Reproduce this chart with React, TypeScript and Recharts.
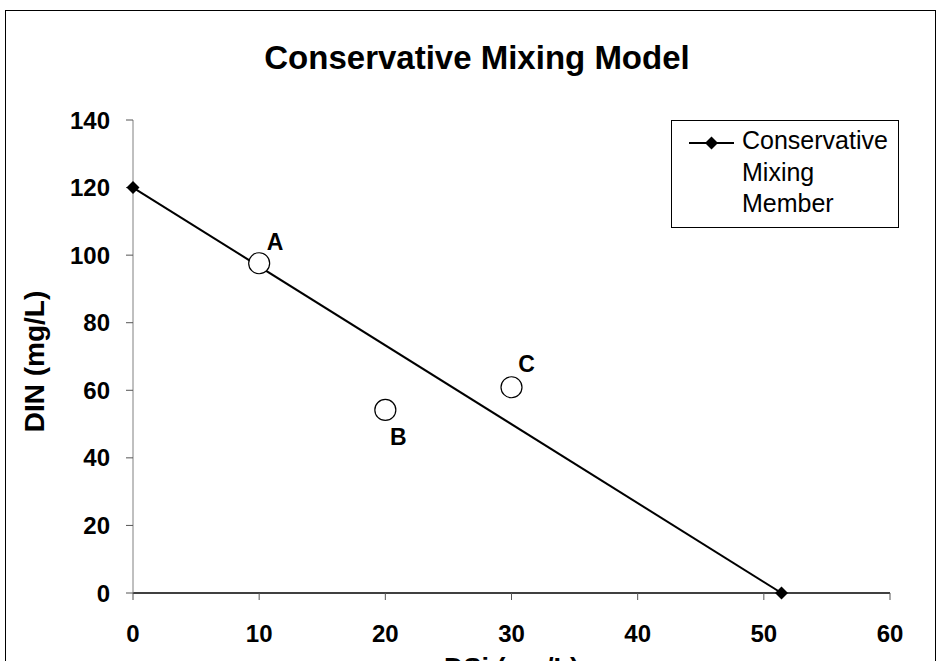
import React from "react";
import { ScatterChart, Scatter, XAxis, YAxis, Legend } from "recharts";

const FONT = "'Liberation Sans', Arial, Helvetica, sans-serif";

// Conservative mixing end-members
const mixingX = [0, 51.4];
const mixingY = [120, 0];
const mixingName = "Conservative Mixing Member";

// Sample points
const sampleNames = ["A", "B", "C"];
const sampleX = [10, 20, 30];
const sampleY = [97.6, 54.2, 60.9];

const xTicks = [0, 10, 20, 30, 40, 50, 60];
const yTicks = [0, 20, 40, 60, 80, 100, 120, 140];

const titleText = "Conservative Mixing Model";
const xLabel = "DSi (mg/L)";
const yLabel = "DIN (mg/L)";

// label placement relative to each sample marker (style)
const labelOffset: Record<string, [number, number]> = {
  A: [16, -22],
  B: [13, 27],
  C: [15, -24],
};

const mixingData = mixingX.map((x, i) => ({ x, y: mixingY[i] }));
const sampleData = sampleNames.map((name, i) => ({ name, x: sampleX[i], y: sampleY[i] }));

const Diamond = (props: any) => {
  const { cx, cy } = props;
  const r = 6.5;
  return (
    <polygon
      points={`${cx},${cy - r} ${cx + r},${cy} ${cx},${cy + r} ${cx - r},${cy}`}
      fill="#000"
    />
  );
};

const SampleMark = (props: any) => {
  const { cx, cy, payload } = props;
  const off = labelOffset[payload.name] || [14, -22];
  return (
    <g>
      <circle cx={cx} cy={cy} r={10.5} fill="#fff" stroke="#000" strokeWidth={1.2} />
      <text
        x={cx + off[0]}
        y={cy + off[1]}
        dy="0.36em"
        textAnchor="middle"
        fontFamily={FONT}
        fontWeight="bold"
        fontSize={23}
        fill="#000"
      >
        {payload.name}
      </text>
    </g>
  );
};

const LegendBox = () => (
  <div
    style={{
      width: 228,
      height: 108,
      border: "1px solid #000",
      boxSizing: "border-box",
      background: "#fff",
      position: "relative",
      fontFamily: FONT,
    }}
  >
    <svg
      width={50}
      height={20}
      style={{ position: "absolute", left: 16, top: 12 }}
    >
      <line x1={1} y1={10} x2={46} y2={10} stroke="#000" strokeWidth={2} />
      <polygon points="23.5,3.5 30,10 23.5,16.5 17,10" fill="#000" />
    </svg>
    <div
      style={{
        position: "absolute",
        left: 70,
        top: 4,
        width: 152,
        fontSize: 25,
        lineHeight: "31.5px",
        color: "#000",
      }}
    >
      {mixingName}
    </div>
  </div>
);

export default function App() {
  return (
    <div
      style={{
        position: "absolute",
        left: 0,
        top: 0,
        width: 937,
        height: 661,
        overflow: "hidden",
        background: "#fff",
      }}
    >
      <div
        style={{
          position: "absolute",
          left: 5,
          top: 10,
          width: 931,
          height: 720,
          border: "1.5px solid #000",
          boxSizing: "border-box",
        }}
      />
      <div
        style={{
          position: "absolute",
          left: 0,
          top: 41,
          width: 954,
          textAlign: "center",
          fontFamily: FONT,
          fontWeight: "bold",
          fontSize: 33,
          lineHeight: "33px",
          color: "#000",
        }}
      >
        {titleText}
      </div>
      <div style={{ position: "absolute", left: 0, top: 0 }}>
        <ScatterChart
          width={937}
          height={700}
          margin={{ top: 120, right: 47, bottom: 57, left: 0 }}
        >
          <XAxis
            type="number"
            dataKey="x"
            domain={[0, 60]}
            ticks={xTicks}
            height={50}
            tickSize={7}
            tickMargin={25}
            axisLine={{ stroke: "#000", strokeWidth: 1.5 }}
            tickLine={{ stroke: "#555" }}
            tick={{ fill: "#000", fontSize: 24, fontWeight: "bold", fontFamily: FONT }}
            label={{
              value: xLabel,
              position: "bottom",
              offset: 15,
              fill: "#000",
              fontSize: 27,
              fontWeight: "bold",
              fontFamily: FONT,
            }}
          />
          <YAxis
            type="number"
            dataKey="y"
            domain={[0, 140]}
            ticks={yTicks}
            width={133}
            tickSize={7}
            tickMargin={16}
            axisLine={{ stroke: "#808080" }}
            tickLine={{ stroke: "#555" }}
            tick={{ fill: "#000", fontSize: 24, fontWeight: "bold", fontFamily: FONT }}
            label={{
              value: yLabel,
              angle: -90,
              position: "insideLeft",
              offset: 34,
              dy: 5,
              textAnchor: "middle",
              fill: "#000",
              fontSize: 28,
              fontWeight: "bold",
              fontFamily: FONT,
            }}
          />
          <Legend
            layout="vertical"
            align="center"
            verticalAlign="middle"
            content={() => <LegendBox />}
            wrapperStyle={{ left: 671, top: 120, width: 228, height: 108 }}
          />
          <Scatter
            name={mixingName}
            data={mixingData}
            line={{ stroke: "#000", strokeWidth: 2 }}
            shape={Diamond}
            isAnimationActive={false}
          />
          <Scatter
            name="Samples"
            data={sampleData}
            shape={SampleMark}
            legendType="none"
            isAnimationActive={false}
          />
        </ScatterChart>
      </div>
    </div>
  );
}
